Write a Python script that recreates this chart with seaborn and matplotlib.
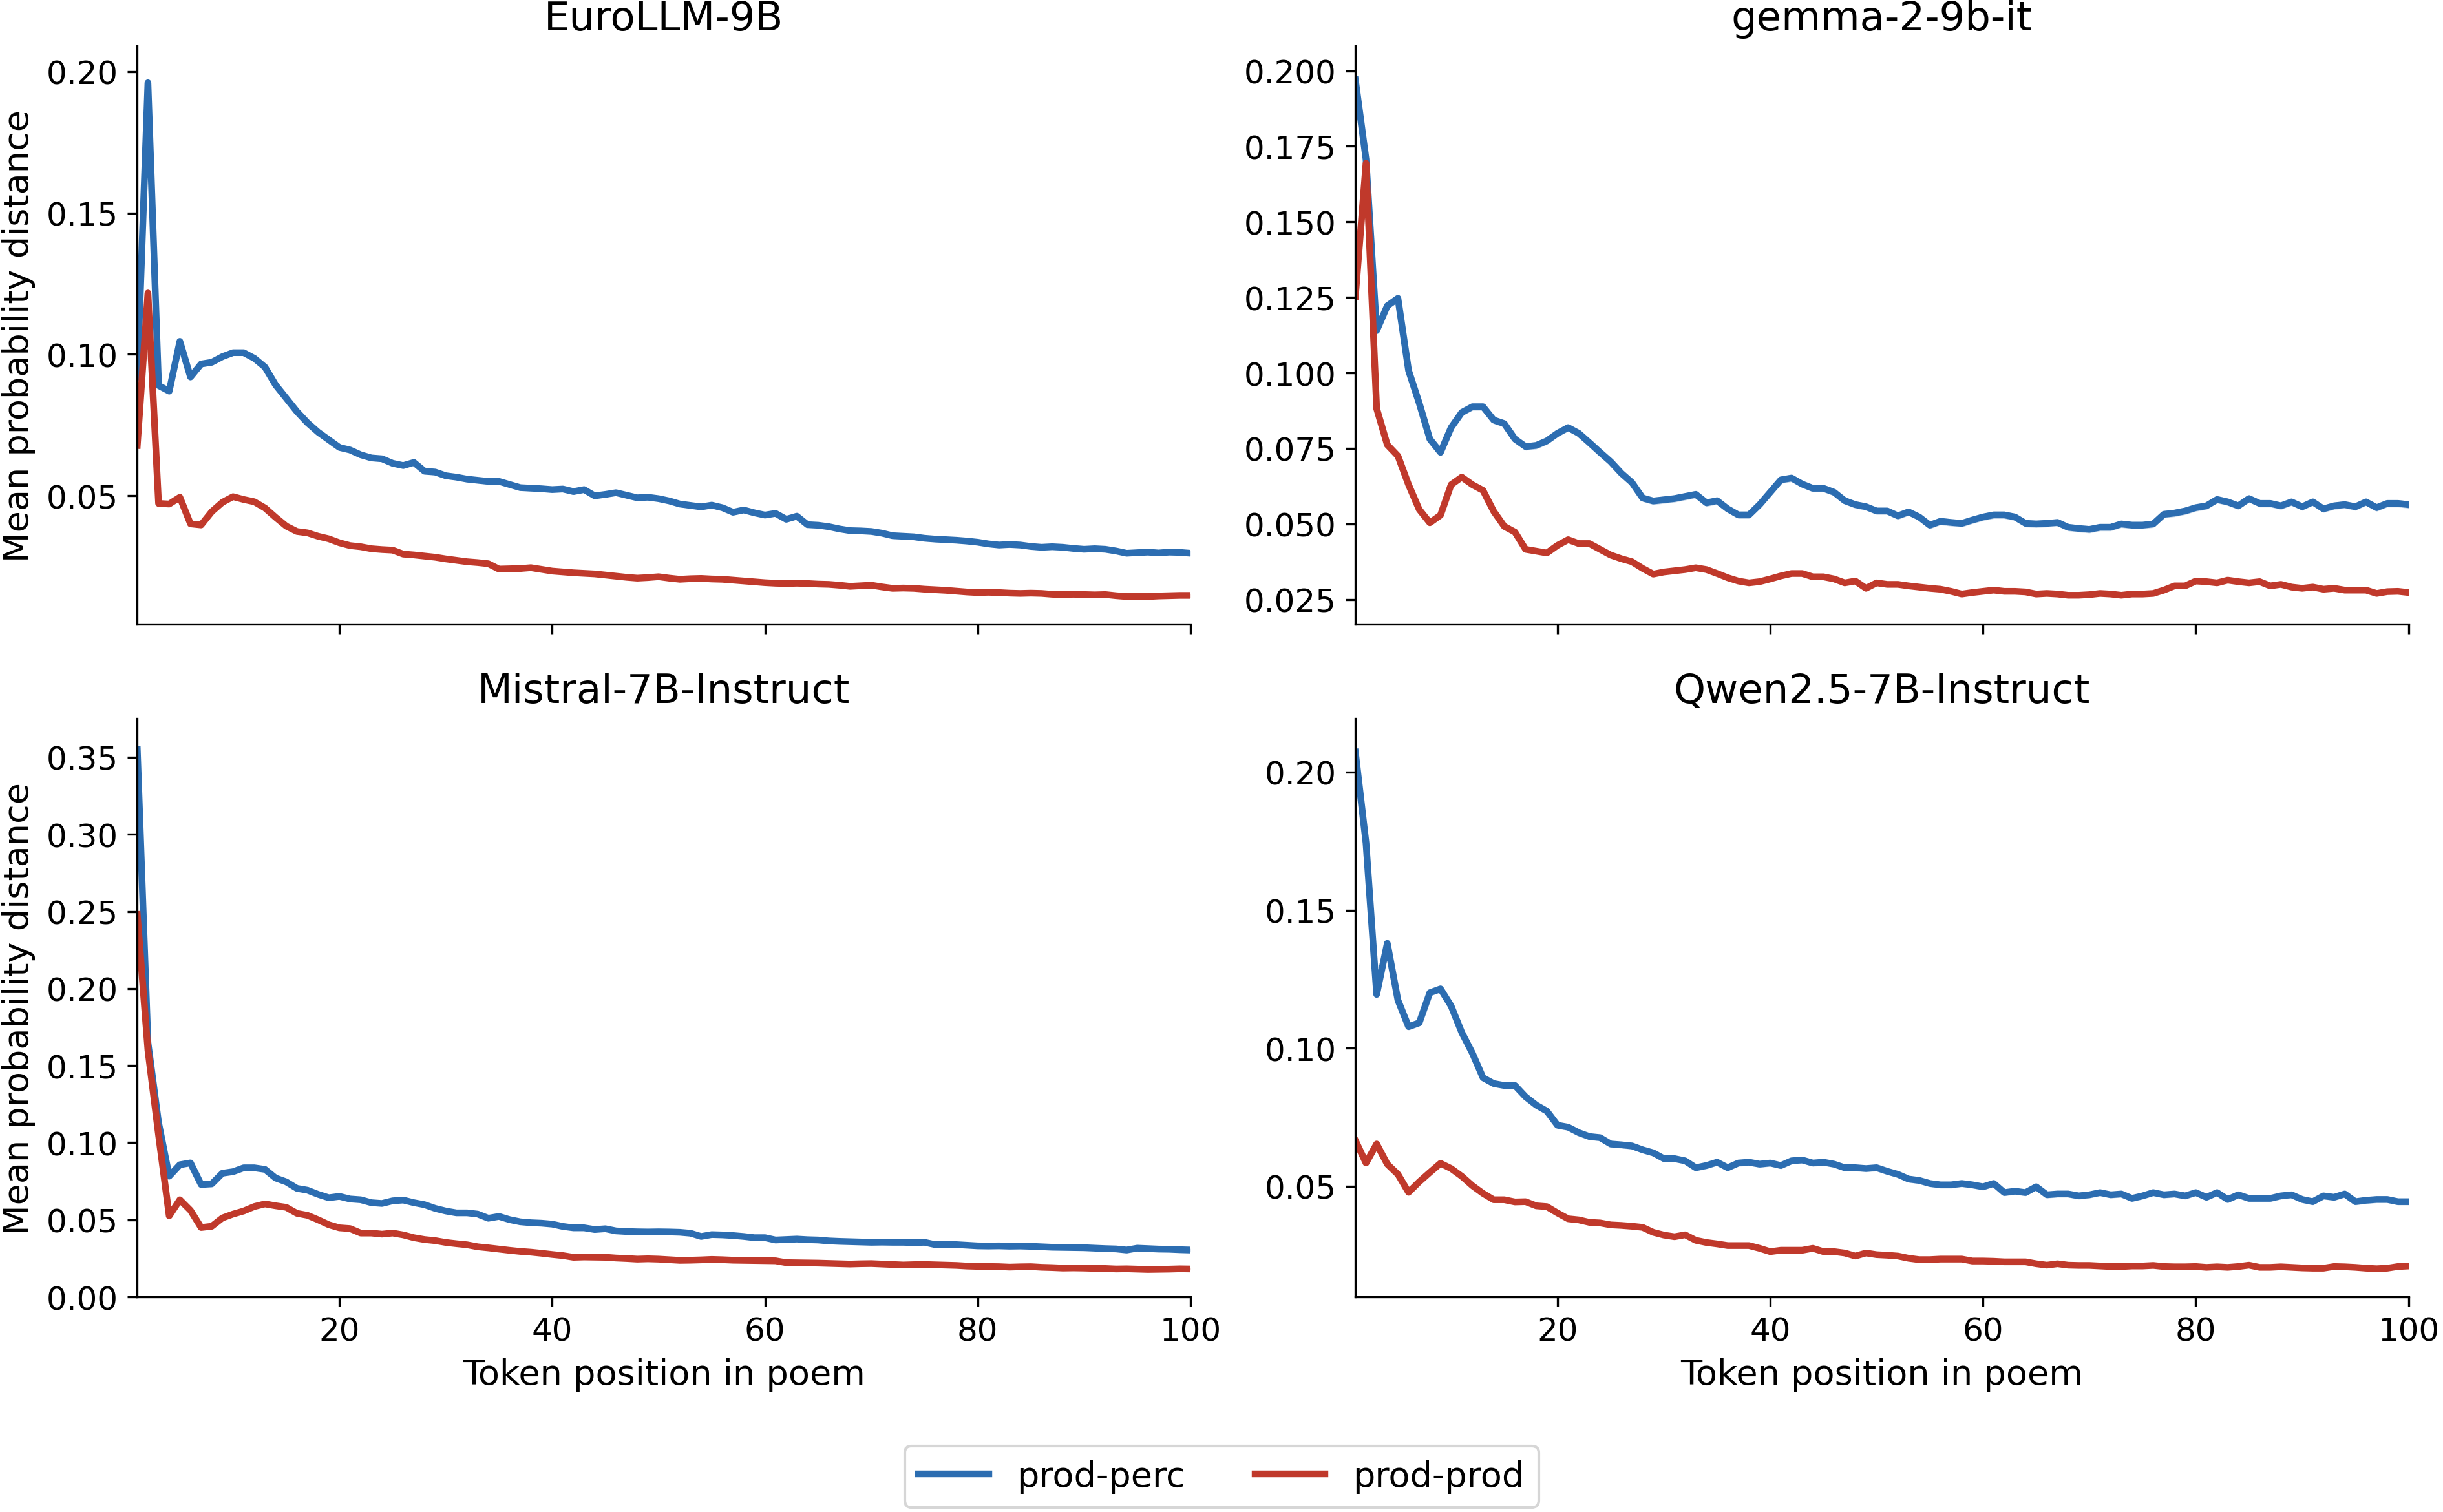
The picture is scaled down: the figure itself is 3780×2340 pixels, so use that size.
import numpy as np
import pandas as pd
import matplotlib
matplotlib.use("Agg")
import matplotlib.pyplot as plt
from matplotlib.lines import Line2D
from matplotlib.ticker import MultipleLocator
import seaborn as sns

# ---------------- data ----------------
positions = list(range(1, 101))
models = ["EuroLLM-9B", "gemma-2-9b-it", "Mistral-7B-Instruct", "Qwen2.5-7B-Instruct"]
conditions = ["prod-perc", "prod-prod"]
x_ticks = [20, 40, 60, 80, 100]

euro_perc = [0.092, 0.196, 0.089, 0.087, 0.1046, 0.092, 0.0966, 0.0972, 0.0992, 0.1006,
             0.1006, 0.0986, 0.0955, 0.0892, 0.0845, 0.0798, 0.0758, 0.0725, 0.0698, 0.0671,
             0.0662, 0.0645, 0.0634, 0.0631, 0.0615, 0.0607, 0.0618, 0.0587, 0.0584, 0.0571,
             0.0566, 0.0559, 0.0555, 0.0551, 0.0551, 0.0540, 0.0529, 0.0527, 0.0525, 0.0522,
             0.0524, 0.0515, 0.0522, 0.0500, 0.0505, 0.0511, 0.0502, 0.0493, 0.0495, 0.0490,
             0.0482, 0.0471, 0.0466, 0.0461, 0.0467, 0.0458, 0.0442, 0.0450, 0.0440, 0.0432,
             0.0438, 0.0417, 0.0428, 0.0398, 0.0396, 0.0391, 0.0383, 0.0377, 0.0376, 0.0374,
             0.0368, 0.0359, 0.0357, 0.0355, 0.0350, 0.0347, 0.0345, 0.0343, 0.0340, 0.0336,
             0.0330, 0.0326, 0.0328, 0.0326, 0.0321, 0.0318, 0.0320, 0.0318, 0.0314, 0.0311,
             0.0313, 0.0311, 0.0305, 0.0297, 0.0299, 0.0301, 0.0298, 0.0301, 0.0300, 0.0297]
euro_prod = [0.0678, 0.1217, 0.0473, 0.0471, 0.0495, 0.0401, 0.0397, 0.0444, 0.0477, 0.0497,
             0.0487, 0.0479, 0.0457, 0.0424, 0.0393, 0.0374, 0.0369, 0.0357, 0.0348, 0.0334,
             0.0324, 0.0320, 0.0313, 0.0310, 0.0308, 0.0294, 0.0291, 0.0287, 0.0283, 0.0277,
             0.0272, 0.0267, 0.0264, 0.0260, 0.0241, 0.0242, 0.0243, 0.0246, 0.0240, 0.0234,
             0.0231, 0.0228, 0.0226, 0.0224, 0.0220, 0.0216, 0.0212, 0.0209, 0.0211, 0.0214,
             0.0209, 0.0205, 0.0207, 0.0208, 0.0206, 0.0205, 0.0202, 0.0199, 0.0196, 0.0193,
             0.0191, 0.0190, 0.0191, 0.0190, 0.0188, 0.0187, 0.0184, 0.0180, 0.0182, 0.0184,
             0.0178, 0.0173, 0.0174, 0.0173, 0.0170, 0.0168, 0.0166, 0.0163, 0.0160, 0.0158,
             0.0159, 0.0158, 0.0156, 0.0155, 0.0156, 0.0155, 0.0152, 0.0151, 0.0152, 0.0151,
             0.0150, 0.0151, 0.0147, 0.0144, 0.0144, 0.0144, 0.0146, 0.0147, 0.0148, 0.0148]

gemma_perc = [0.197, 0.1707, 0.114, 0.1222, 0.1247, 0.1008, 0.090, 0.0781, 0.0737, 0.0819,
              0.0869, 0.0888, 0.0888, 0.0844, 0.0832, 0.0781, 0.0756, 0.0760, 0.0775, 0.0800,
              0.0819, 0.0800, 0.0769, 0.0737, 0.0706, 0.0668, 0.0637, 0.0586, 0.0576, 0.0580,
              0.0584, 0.0591, 0.0598, 0.0570, 0.0577, 0.0550, 0.0530, 0.0530, 0.0564, 0.0605,
              0.0646, 0.0652, 0.0632, 0.0618, 0.0618, 0.0605, 0.0577, 0.0564, 0.0557, 0.0543,
              0.0543, 0.0527, 0.0540, 0.0523, 0.0496, 0.0509, 0.0505, 0.0502, 0.0513, 0.0523,
              0.0530, 0.0530, 0.0523, 0.0502, 0.0500, 0.0502, 0.0505, 0.0489, 0.0485, 0.0482,
              0.0489, 0.0489, 0.0500, 0.0496, 0.0496, 0.0500, 0.0532, 0.0536, 0.0543, 0.0554,
              0.0560, 0.0581, 0.0573, 0.0560, 0.0584, 0.0568, 0.0568, 0.0560, 0.0573, 0.0557,
              0.0573, 0.0550, 0.0560, 0.0564, 0.0557, 0.0573, 0.0554, 0.0568, 0.0568, 0.0564]
gemma_prod = [0.1253, 0.1694, 0.0882, 0.0762, 0.0725, 0.0630, 0.0548, 0.0504, 0.0529, 0.0630,
              0.0655, 0.0630, 0.0611, 0.0542, 0.0492, 0.0473, 0.0416, 0.0410, 0.0404, 0.0429,
              0.0448, 0.0435, 0.0435, 0.0416, 0.0397, 0.0385, 0.0375, 0.0353, 0.0334, 0.0341,
              0.0345, 0.0349, 0.0355, 0.0349, 0.0336, 0.0322, 0.0311, 0.0305, 0.0309, 0.0318,
              0.0328, 0.0336, 0.0336, 0.0325, 0.0325, 0.0318, 0.0305, 0.0311, 0.0287, 0.0305,
              0.0300, 0.0300, 0.0295, 0.0291, 0.0287, 0.0284, 0.0277, 0.0268, 0.0273, 0.0277,
              0.0281, 0.0277, 0.0277, 0.0275, 0.0268, 0.0270, 0.0268, 0.0264, 0.0264, 0.0266,
              0.0270, 0.0268, 0.0264, 0.0268, 0.0268, 0.0270, 0.0281, 0.0295, 0.0295, 0.0311,
              0.0309, 0.0305, 0.0314, 0.0309, 0.0305, 0.0309, 0.0295, 0.0300, 0.0291, 0.0287,
              0.0291, 0.0284, 0.0287, 0.0281, 0.0281, 0.0281, 0.0270, 0.0276, 0.0277, 0.0273]

mistral_perc = [0.355, 0.165, 0.113, 0.0783, 0.0857, 0.0869, 0.0729, 0.0733, 0.0802, 0.0812,
                0.0837, 0.0837, 0.0827, 0.0771, 0.0746, 0.0704, 0.0692, 0.0665, 0.0643, 0.0652,
                0.0635, 0.0630, 0.0611, 0.0606, 0.0623, 0.0628, 0.0611, 0.0598, 0.0574, 0.0557,
                0.0545, 0.0545, 0.0537, 0.0510, 0.0522, 0.0501, 0.0487, 0.0481, 0.0478, 0.0472,
                0.0457, 0.0448, 0.0448, 0.0437, 0.0442, 0.0428, 0.0424, 0.0422, 0.0421, 0.0422,
                0.0421, 0.0419, 0.0413, 0.0392, 0.0404, 0.0402, 0.0398, 0.0392, 0.0384, 0.0384,
                0.0369, 0.0372, 0.0375, 0.0371, 0.0369, 0.0363, 0.0360, 0.0358, 0.0356, 0.0354,
                0.0355, 0.0354, 0.0354, 0.0352, 0.0354, 0.0339, 0.0340, 0.0339, 0.0335, 0.0331,
                0.0330, 0.0331, 0.0329, 0.0330, 0.0328, 0.0325, 0.0322, 0.0321, 0.0320, 0.0319,
                0.0316, 0.0313, 0.0311, 0.0304, 0.0316, 0.0313, 0.0310, 0.0309, 0.0306, 0.0304]
mistral_prod = [0.248, 0.160, 0.105, 0.0525, 0.0630, 0.0561, 0.0450, 0.0458, 0.0512, 0.0537,
                0.0557, 0.0586, 0.0603, 0.0591, 0.0581, 0.0542, 0.0529, 0.0500, 0.0468, 0.0448,
                0.0443, 0.0414, 0.0414, 0.0407, 0.0414, 0.0402, 0.0384, 0.0372, 0.0365, 0.0353,
                0.0345, 0.0338, 0.0325, 0.0318, 0.0310, 0.0302, 0.0295, 0.0290, 0.0283, 0.0275,
                0.0268, 0.0257, 0.0259, 0.0258, 0.0257, 0.0252, 0.0249, 0.0245, 0.0247, 0.0245,
                0.0241, 0.0237, 0.0238, 0.0240, 0.0243, 0.0241, 0.0238, 0.0237, 0.0236, 0.0235,
                0.0234, 0.0222, 0.0221, 0.0220, 0.0219, 0.0217, 0.0215, 0.0213, 0.0215, 0.0216,
                0.0213, 0.0210, 0.0207, 0.0209, 0.0210, 0.0208, 0.0206, 0.0204, 0.0200, 0.0198,
                0.0197, 0.0196, 0.0193, 0.0195, 0.0196, 0.0192, 0.0190, 0.0187, 0.0188, 0.0187,
                0.0185, 0.0184, 0.0181, 0.0182, 0.0180, 0.0178, 0.0179, 0.0180, 0.0182, 0.0181]

qwen_perc = [0.2073, 0.1743, 0.1195, 0.1380, 0.1174, 0.1078, 0.1092, 0.1201, 0.1215, 0.1153,
             0.1057, 0.0982, 0.0893, 0.0872, 0.0865, 0.0865, 0.0824, 0.0794, 0.0772, 0.0721,
             0.0714, 0.0694, 0.0680, 0.0676, 0.0653, 0.0650, 0.0646, 0.0632, 0.0621, 0.0600,
             0.0600, 0.0592, 0.0567, 0.0575, 0.0587, 0.0567, 0.0584, 0.0587, 0.0580, 0.0584,
             0.0575, 0.0592, 0.0595, 0.0584, 0.0587, 0.0580, 0.0567, 0.0567, 0.0564, 0.0567,
             0.0554, 0.0543, 0.0526, 0.0521, 0.0510, 0.0505, 0.0505, 0.0510, 0.0505, 0.0498,
             0.0510, 0.0477, 0.0482, 0.0477, 0.0498, 0.0469, 0.0472, 0.0472, 0.0465, 0.0469,
             0.0477, 0.0469, 0.0472, 0.0456, 0.0465, 0.0477, 0.0469, 0.0472, 0.0465, 0.0477,
             0.0460, 0.0477, 0.0452, 0.0469, 0.0456, 0.0456, 0.0456, 0.0465, 0.0469, 0.0452,
             0.0444, 0.0465, 0.0460, 0.0472, 0.0444, 0.0449, 0.0452, 0.0452, 0.0444, 0.0444]
qwen_prod = [0.0666, 0.0584, 0.0653, 0.0580, 0.0543, 0.0478, 0.0516, 0.0550, 0.0583, 0.0564,
             0.0536, 0.0502, 0.0474, 0.0451, 0.0451, 0.0443, 0.0444, 0.0429, 0.0426, 0.0403,
             0.0382, 0.0378, 0.0369, 0.0367, 0.0360, 0.0358, 0.0355, 0.0351, 0.0333, 0.0323,
             0.0317, 0.0324, 0.0304, 0.0296, 0.0291, 0.0285, 0.0285, 0.0285, 0.0275, 0.0263,
             0.0268, 0.0268, 0.0268, 0.0275, 0.0263, 0.0263, 0.0258, 0.0247, 0.0258, 0.0252,
             0.0250, 0.0247, 0.0239, 0.0234, 0.0234, 0.0236, 0.0236, 0.0236, 0.0229, 0.0229,
             0.0228, 0.0226, 0.0226, 0.0226, 0.0219, 0.0214, 0.0219, 0.0214, 0.0213, 0.0213,
             0.0211, 0.0209, 0.0209, 0.0211, 0.0211, 0.0213, 0.0209, 0.0208, 0.0208, 0.0209,
             0.0206, 0.0208, 0.0206, 0.0209, 0.0214, 0.0206, 0.0206, 0.0208, 0.0206, 0.0204,
             0.0203, 0.0203, 0.0209, 0.0208, 0.0206, 0.0203, 0.0201, 0.0203, 0.0209, 0.0211]

# half-width of the shaded confidence band for each model (perc, prod)
ci_perc = [0.0010, 0.0012, 0.0010, 0.0012]
ci_prod = [0.0007, 0.0008, 0.0007, 0.0008]

series = {
    "EuroLLM-9B": (euro_perc, euro_prod),
    "gemma-2-9b-it": (gemma_perc, gemma_prod),
    "Mistral-7B-Instruct": (mistral_perc, mistral_prod),
    "Qwen2.5-7B-Instruct": (qwen_perc, qwen_prod),
}

# y-axis ranges and tick steps
y_limits = [(0.0046, 0.209), (0.0168, 0.2082), (0.0, 0.375), (0.0099, 0.2194)]
y_steps = [0.05, 0.025, 0.05, 0.05]

palette = {"prod-perc": "#2c6db1", "prod-prod": "#c0392b"}

# ---------------- figure ----------------
fig = plt.figure(figsize=(12.6, 7.803), dpi=300)
lefts = [0.0562, 0.5548]
width = 0.4311
bottoms = [0.5869, 0.1422]
height = 0.3823

axes = []
for r in range(2):
    for c in range(2):
        ax = fig.add_axes([lefts[c], bottoms[r], width, height])
        axes.append(ax)

for k, (ax, model) in enumerate(zip(axes, models)):
    perc, prod = series[model]
    df = pd.DataFrame({
        "position": positions * 2,
        "value": list(perc) + list(prod),
        "condition": ["prod-perc"] * len(perc) + ["prod-prod"] * len(prod),
    })
    sns.lineplot(data=df, x="position", y="value", hue="condition",
                 hue_order=conditions, palette=palette, errorbar=None,
                 linewidth=2.5, legend=False, ax=ax)
    ax.fill_between(positions, np.array(perc) - ci_perc[k], np.array(perc) + ci_perc[k],
                    color=palette["prod-perc"], alpha=0.25, linewidth=0)
    ax.fill_between(positions, np.array(prod) - ci_prod[k], np.array(prod) + ci_prod[k],
                    color=palette["prod-prod"], alpha=0.25, linewidth=0)
    ax.set_xlim(1, 100)
    ax.set_xticks(x_ticks)
    ax.set_ylim(*y_limits[k])
    ax.yaxis.set_major_locator(MultipleLocator(y_steps[k]))
    ax.set_title(model, fontsize=15)
    ax.tick_params(labelsize=12)
    sns.despine(ax=ax)
    r, c = divmod(k, 2)
    if r == 0:
        ax.set_xticklabels([])
        ax.set_xlabel("")
    else:
        ax.set_xlabel("Token position in poem", fontsize=13)
    if c == 0:
        ax.set_ylabel("Mean probability distance", fontsize=13)
    else:
        ax.set_ylabel("")

handles = [Line2D([0], [0], color=palette[c], lw=2.5) for c in conditions]
fig.legend(handles, conditions, loc="lower center", bbox_to_anchor=(0.5, 0.003),
           borderaxespad=0.0, ncol=2, fontsize=13, frameon=True,
           handlelength=2.0, columnspacing=2.0)

fig.savefig("out.png", dpi=300)
